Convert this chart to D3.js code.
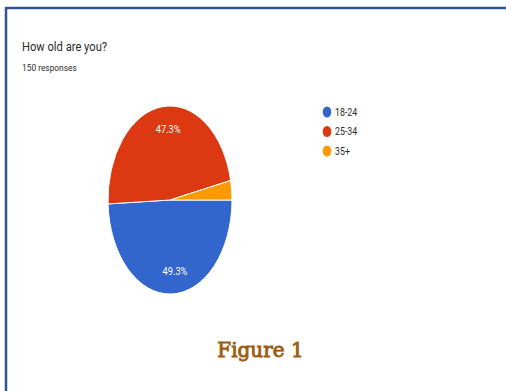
<!DOCTYPE html>
<html>
<head>
<meta charset="utf-8">
<script src="https://cdn.jsdelivr.net/npm/d3@7"></script>
<style>
  html, body { margin: 0; padding: 0; background: #fff; }
  svg { display: block; }
</style>
</head>
<body>
<svg id="chart" width="506" height="391"></svg>
<script>
// Survey answers: age groups and response counts (150 total)
const categories = ["18-24", "25-34", "35+"];
const counts = [74, 71, 5];
const colors = ["#3366CC", "#DC3912", "#FF9900"];
const title = "How old are you?";
const subtitle = "150 responses";
const caption = "Figure 1";

const svg = d3.select("#chart");

// Card frame (top and left rules)
svg.append("line").attr("x1", 6).attr("x2", 506).attr("y1", 8).attr("y2", 8)
  .attr("stroke", "#2F5597").attr("stroke-width", 2.5);
svg.append("line").attr("x1", 6).attr("x2", 6).attr("y1", 7).attr("y2", 391)
  .attr("stroke", "#2F5597").attr("stroke-width", 2.5);

// Heading
svg.append("text").attr("x", 22).attr("y", 51)
  .attr("font-family", "Roboto").attr("font-size", 13).attr("fill", "#2a2a2a")
  .attr("transform", "translate(22,0) scale(0.86,1) translate(-22,0)")
  .text(title);
svg.append("text").attr("x", 22).attr("y", 71)
  .attr("font-family", "Roboto").attr("font-size", 9.5).attr("fill", "#2a2a2a")
  .attr("transform", "translate(22,0) scale(0.88,1) translate(-22,0)")
  .text(subtitle);

// Pie (drawn as an ellipse: horizontal radius rx, vertical radius ry)
const cx = 170, cy = 200, rx = 62, ry = 94;
const total = d3.sum(counts);
const data = categories.map((c, i) => ({ name: c, value: counts[i], color: colors[i] }));
const pie = d3.pie().value(d => d.value).sort(null)
  .startAngle(Math.PI / 2).endAngle(Math.PI / 2 + 2 * Math.PI);
const arcs = pie(data);
const arc = d3.arc().innerRadius(0).outerRadius(ry);
const labelArc = d3.arc().innerRadius(ry * 0.76).outerRadius(ry * 0.76);

const g = svg.append("g").attr("transform", `translate(${cx},${cy}) scale(${rx / ry},1)`);
g.selectAll("path").data(arcs).join("path")
  .attr("d", arc)
  .attr("fill", d => d.data.color)
  .attr("stroke", "#fff").attr("stroke-width", 1)
  .attr("vector-effect", "non-scaling-stroke");

// Percentage labels on the larger slices
const fmt = d => (Math.round(d.value / total * 1000) / 10).toFixed(1) + "%";
const labelX = d => cx + 4 + labelArc.centroid(d)[0] * rx / ry;
svg.selectAll("text.pct").data(arcs.filter(d => d.value / total > 0.05)).join("text")
  .attr("class", "pct")
  .attr("x", labelX)
  .attr("y", d => cy + labelArc.centroid(d)[1] + 4)
  .attr("text-anchor", "middle")
  .attr("font-family", "Roboto").attr("font-size", 10.5).attr("fill", "#fff")
  .attr("transform", d => `translate(${labelX(d)},0) scale(0.88,1) translate(${-labelX(d)},0)`)
  .text(d => fmt(d.data));

// Legend
const legend = svg.append("g").attr("transform", "translate(327,112)");
const items = legend.selectAll("g").data(data).join("g")
  .attr("transform", (d, i) => `translate(0,${i * 19.5})`);
items.append("ellipse").attr("rx", 4.3).attr("ry", 5.5).attr("fill", d => d.color);
items.append("text").attr("x", 8).attr("y", 3.8)
  .attr("font-family", "Roboto").attr("font-size", 10.5).attr("fill", "#2a2a2a")
  .attr("transform", "translate(8,0) scale(0.84,1) translate(-8,0)")
  .text(d => d.name);

// Caption
svg.append("text").attr("x", 260.5).attr("y", 357)
  .attr("text-anchor", "middle")
  .attr("font-family", "DejaVu Serif").attr("font-weight", "normal")
  .attr("font-size", 20).attr("fill", "#9E5A0E")
  .attr("stroke", "#9E5A0E").attr("stroke-width", 0.85)
  .text(caption);
</script>
</body>
</html>
